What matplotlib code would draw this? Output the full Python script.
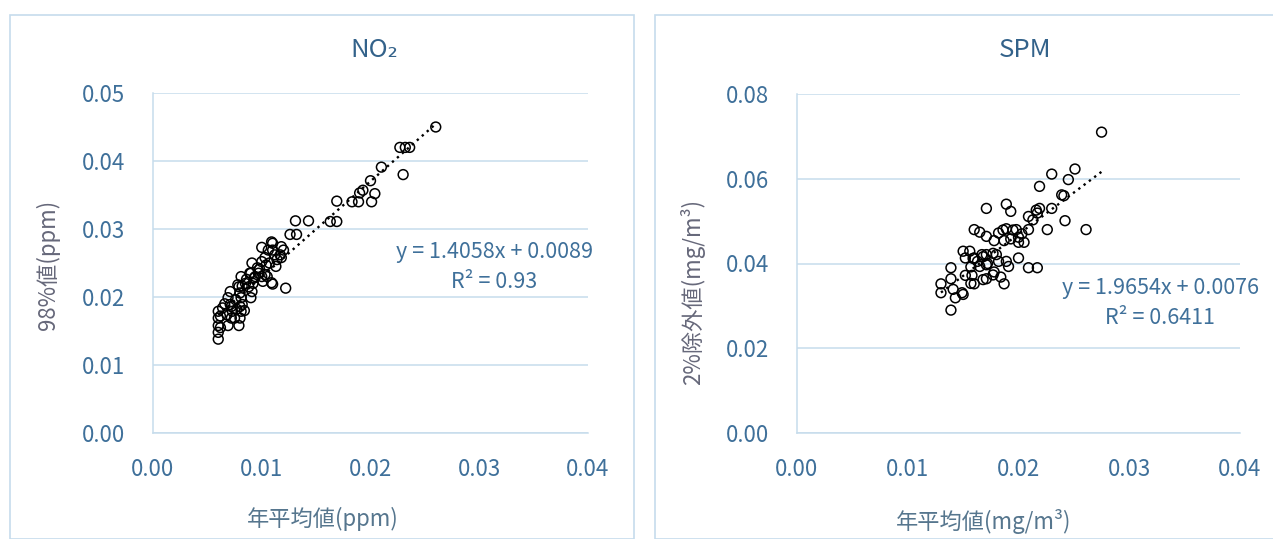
import numpy as np
import matplotlib
matplotlib.use('Agg')
import matplotlib.pyplot as plt
from matplotlib.patches import Rectangle

plt.rcParams['font.family'] = ['Noto Sans CJK JP', 'DejaVu Sans']

# NO2: annual mean vs 98% value (ppm)
no2_x = [0.0260, 0.0227, 0.0232, 0.0236, 0.0230, 0.0210, 0.0200, 0.0190, 0.0193,
         0.0183, 0.0189, 0.0201, 0.0204, 0.0169, 0.0163, 0.0169, 0.0131, 0.0143,
         0.0126, 0.0132, 0.0122, 0.0109,
         0.0110, 0.0106, 0.0110, 0.0120, 0.0118, 0.0103, 0.0107, 0.0091, 0.0096,
         0.0090, 0.0094, 0.0100, 0.0105, 0.0085, 0.0081, 0.0079, 0.0088, 0.0092,
         0.0081, 0.0090, 0.0069, 0.0071, 0.0064, 0.0073, 0.0081, 0.0060, 0.0060,
         0.0060, 0.0060, 0.0060, 0.0069, 0.0079, 0.0068, 0.0075, 0.0110,
         0.0100, 0.0109, 0.0118, 0.0112, 0.0117, 0.0100, 0.0113, 0.0089, 0.0097,
         0.0103, 0.0086, 0.0093, 0.0101, 0.0082, 0.0078, 0.0071, 0.0080, 0.0091,
         0.0076, 0.0082, 0.0072, 0.0080, 0.0062, 0.0062, 0.0072, 0.0080, 0.0084,
         0.0077, 0.0066, 0.0098, 0.0104, 0.0114]
no2_y = [0.0450, 0.0420, 0.0420, 0.0420, 0.0380, 0.0391, 0.0371, 0.0353, 0.0357,
         0.0340, 0.0340, 0.0340, 0.0352, 0.0341, 0.0311, 0.0311, 0.0312, 0.0312,
         0.0292, 0.0292, 0.0213, 0.0221,
         0.0279, 0.0269, 0.0269, 0.0269, 0.0258, 0.0258, 0.0250, 0.0250, 0.0243,
         0.0235, 0.0230, 0.0230, 0.0230, 0.0220, 0.0230, 0.0215, 0.0215, 0.0220,
         0.0199, 0.0199, 0.0199, 0.0189, 0.0184, 0.0179, 0.0179, 0.0179, 0.0169,
         0.0158, 0.0148, 0.0138, 0.0158, 0.0158, 0.0174, 0.0169, 0.0219,
         0.0273, 0.0281, 0.0274, 0.0262, 0.0262, 0.0252, 0.0245, 0.0235, 0.0235,
         0.0233, 0.0226, 0.0228, 0.0223, 0.0216, 0.0218, 0.0208, 0.0206, 0.0208,
         0.0196, 0.0189, 0.0186, 0.0186, 0.0172, 0.0155, 0.0169, 0.0169, 0.0180,
         0.0182, 0.0190, 0.0241, 0.0247, 0.0255]
no2_fit = (1.4058, 0.0089)
no2_eq = 'y = 1.4058x + 0.0089\nR² = 0.93'

# SPM: annual mean vs 2% excluded value (mg/m3)
spm_x = [0.0275, 0.0251, 0.0230, 0.0245, 0.0219, 0.0239, 0.0241, 0.0189, 0.0193,
         0.0171, 0.0230, 0.0219, 0.0217, 0.0209, 0.0213, 0.0242, 0.0226, 0.0261,
         0.0160, 0.0165, 0.0171, 0.0182, 0.0178, 0.0189, 0.0198, 0.0200, 0.0200,
         0.0209, 0.0187, 0.0193, 0.0150, 0.0156, 0.0152, 0.0160, 0.0167, 0.0171,
         0.0163, 0.0180, 0.0182, 0.0189, 0.0191, 0.0178, 0.0200, 0.0209, 0.0217,
         0.0139, 0.0139, 0.0130, 0.0130, 0.0141, 0.0149, 0.0150, 0.0143, 0.0139,
         0.0152, 0.0160, 0.0171, 0.0184, 0.0187, 0.0158, 0.0165, 0.0171,
         0.0168, 0.0177, 0.0172, 0.0159, 0.0157, 0.0168, 0.0177, 0.0157, 0.0186,
         0.0195, 0.0216, 0.0203, 0.0205]
spm_y = [0.0710, 0.0623, 0.0611, 0.0598, 0.0582, 0.0562, 0.0560, 0.0540, 0.0523,
         0.0530, 0.0530, 0.0530, 0.0519, 0.0511, 0.0503, 0.0501, 0.0480, 0.0480,
         0.0480, 0.0474, 0.0464, 0.0472, 0.0454, 0.0482, 0.0480, 0.0462, 0.0450,
         0.0480, 0.0454, 0.0458, 0.0429, 0.0429, 0.0413, 0.0413, 0.0421, 0.0421,
         0.0405, 0.0421, 0.0405, 0.0405, 0.0393, 0.0380, 0.0413, 0.0390, 0.0390,
         0.0390, 0.0364, 0.0352, 0.0331, 0.0339, 0.0331, 0.0327, 0.0319, 0.0290,
         0.0372, 0.0352, 0.0364, 0.0368, 0.0352, 0.0372, 0.0393, 0.0397,
         0.0416, 0.0424, 0.0400, 0.0412, 0.0392, 0.0362, 0.0373, 0.0353, 0.0479,
         0.0479, 0.0526, 0.0470, 0.0450]
spm_fit = (1.9654, 0.0076)
spm_eq = 'y = 1.9654x + 0.0076\nR² = 0.6411'

W, H = 1273, 539
txt = '#3f709a'
grid_c = '#c6dcec'

fig = plt.figure(figsize=(W / 100, H / 100), dpi=100)
fig.patch.set_facecolor('white')

# chart area frames
fig.patches.append(Rectangle((10 / W, 0), 624 / W, (H - 15) / H, transform=fig.transFigure,
                             fill=False, edgecolor=grid_c, linewidth=1.2))
fig.patches.append(Rectangle((655 / W, 0), 640 / W, (H - 15) / H, transform=fig.transFigure,
                             fill=False, edgecolor=grid_c, linewidth=1.2))


def panel(rect, xs, ys, fit, eq, ymax, ystep, title, ylab, xlab,
          title_pos, ylab_pos, xlab_pos, eq_pos):
    ax = fig.add_axes(rect)
    ax.scatter(xs, ys, s=50, facecolors='none', edgecolors='black', linewidths=1.1, zorder=3)
    xx = np.array([min(xs), max(xs)])
    ax.plot(xx, fit[0] * xx + fit[1], color='black', linestyle=(0, (1, 1.8)), linewidth=1.7, zorder=4)
    ax.set_xlim(0, 0.04)
    ax.set_ylim(0, ymax)
    ax.set_xticks(np.arange(0, 0.0401, 0.01))
    ax.set_yticks(np.arange(0, ymax + 1e-9, ystep))
    ax.set_xticklabels(['%.2f' % v for v in ax.get_xticks()])
    ax.set_yticklabels(['%.2f' % v for v in ax.get_yticks()])
    ax.tick_params(length=0, labelsize=16, colors=txt)
    ax.tick_params(axis='y', pad=20)
    ax.tick_params(axis='x', pad=18)
    ax.grid(axis='y', color=grid_c, linewidth=1.1)
    ax.set_axisbelow(True)
    for s in ['top', 'right']:
        ax.spines[s].set_visible(False)
    for s in ['left', 'bottom']:
        ax.spines[s].set_color(grid_c)
        ax.spines[s].set_linewidth(1.1)
    fig.text(title_pos[0] / W, 1 - title_pos[1] / H, title, ha='center', va='center',
             fontsize=18.5, color='#33628a')
    fig.text(ylab_pos[0] / W, 1 - ylab_pos[1] / H, ylab, ha='center', va='center',
             rotation=90, fontsize=16, color='#66687a')
    fig.text(xlab_pos[0] / W, 1 - xlab_pos[1] / H, xlab, ha='center', va='center',
             fontsize=16, color='#56768e')
    fig.text(eq_pos[0] / W, 1 - eq_pos[1] / H, eq, ha='center', va='center',
             fontsize=15.5, color=txt, linespacing=1.45)
    return ax


panel([153 / W, 106 / H, 435 / W, 340 / H], no2_x, no2_y, no2_fit, no2_eq, 0.05, 0.01,
      'NO₂', '98%値(ppm)', '年平均値(ppm)',
      (374, 50), (48, 265), (323, 519), (494, 267))
panel([797 / W, 106 / H, 443 / W, 339 / H], spm_x, spm_y, spm_fit, spm_eq, 0.08, 0.02,
      'SPM', '2%除外値(mg/m³)', '年平均値(mg/m³)',
      (1025, 50), (693, 292), (984, 521), (1160, 303))

fig.savefig('out.png', dpi=100)
